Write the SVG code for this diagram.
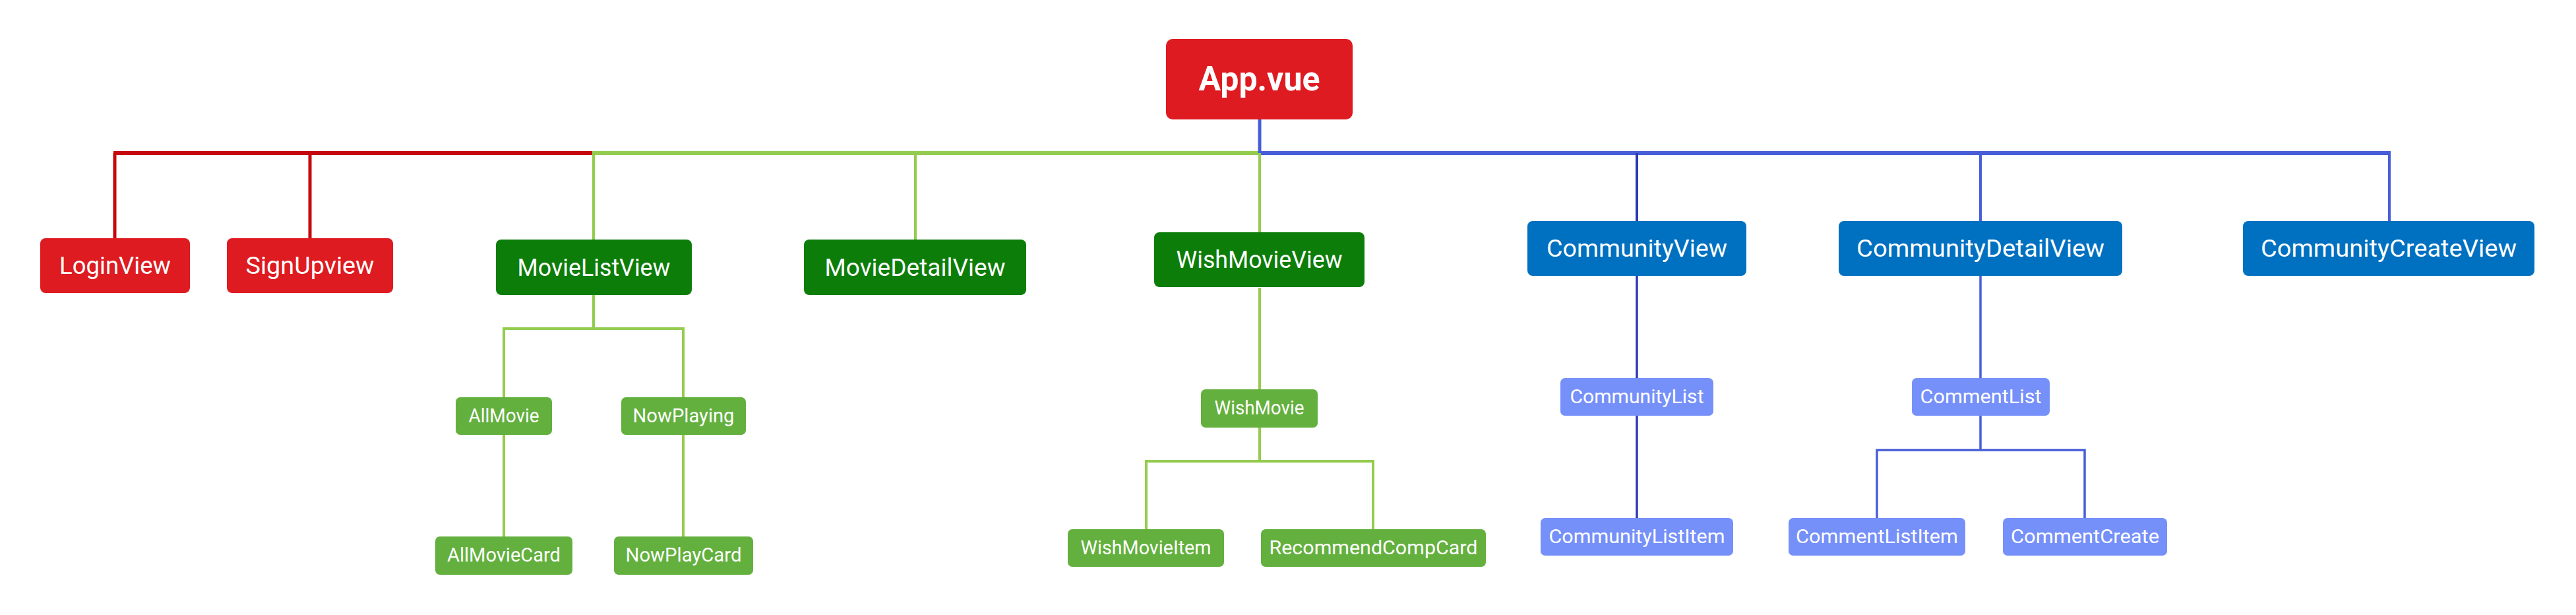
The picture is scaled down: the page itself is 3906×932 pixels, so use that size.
<svg xmlns="http://www.w3.org/2000/svg" width="3906" height="932" viewBox="0 0 3906 932">
<style>
text{font-family:Roboto,"Liberation Sans",sans-serif;fill:#fff;text-anchor:middle}
.big{font-size:36px}
.sm{font-size:30px}
.root{font-size:52px;font-weight:bold}
.red{fill:#de1b21}
.dg{fill:#0d7d0a}
.lg{fill:#63b03e}
.bl{fill:#0070c0}
.lb{fill:#7690f9}
.c{fill:none;stroke-linejoin:miter}
.cr{stroke:#c5080e}
.cg{stroke:#94cc4f}
.cb{stroke:#485ed8}
.cd{stroke:#2c39b4}
</style>
<rect width="3906" height="932" fill="#fff"/>
<g id="connectors">
<path class="c cr" stroke-width="6" d="M172,232 H898"/>
<path class="c cg" stroke-width="6" d="M898,232 H1910"/>
<path class="c cb" stroke-width="6" d="M1910,232 H3625"/>
<path class="c cr" stroke-width="5" d="M174,232 V361 M470,232 V361"/>
<path class="c cg" stroke-width="4" d="M900,232 V363 M1388,232 V363 M1910,232 V352"/>
<path class="c cb" stroke-width="5" d="M1910,181 V232"/>
<path class="c cd" stroke-width="4" d="M2482,232 V335"/>
<path class="c cb" stroke-width="4" d="M3003,232 V335 M3623,232 V335"/>
<path class="c cg" stroke-width="4" d="M900,447 V498 M764,602 V498 H1036 V602 M764,659 V813 M1036,659 V813"/>
<path class="c cg" stroke-width="4" d="M1910,436 V590 M1910,648 V699 M1738,802 V699 H2082 V802"/>
<path class="c cd" stroke-width="3.5" d="M2482,418 V573 M2482,630 V785"/>
<path class="c cb" stroke-width="3.5" d="M3003,418 V573 M3003,630 V682 M2846,785 V682 H3161 V785"/>
</g>
<g id="app-vue"><rect class="red" x="1768" y="59" width="283" height="122" rx="10"/><text class="root" x="1909.5" y="137" textLength="184" lengthAdjust="spacingAndGlyphs">App.vue</text></g>
<g id="login-view"><rect class="red" x="61" y="361" width="227" height="83" rx="8"/><text class="big" x="174.5" y="415" textLength="169" lengthAdjust="spacingAndGlyphs">LoginView</text></g>
<g id="signup-view"><rect class="red" x="344" y="361" width="252" height="83" rx="8"/><text class="big" x="470" y="415" textLength="195" lengthAdjust="spacingAndGlyphs">SignUpview</text></g>
<g id="movie-list-view"><rect class="dg" x="752" y="363" width="297" height="84" rx="8"/><text class="big" x="900.5" y="418" textLength="232" lengthAdjust="spacingAndGlyphs">MovieListView</text></g>
<g id="movie-detail-view"><rect class="dg" x="1219" y="363" width="337" height="84" rx="8"/><text class="big" x="1387.5" y="418" textLength="274" lengthAdjust="spacingAndGlyphs">MovieDetailView</text></g>
<g id="wish-movie-view"><rect class="dg" x="1750" y="352" width="319" height="83" rx="8"/><text class="big" x="1909.5" y="406" textLength="252" lengthAdjust="spacingAndGlyphs">WishMovieView</text></g>
<g id="community-view"><rect class="bl" x="2316" y="335" width="332" height="83" rx="8"/><text class="big" x="2482" y="389" textLength="274" lengthAdjust="spacingAndGlyphs">CommunityView</text></g>
<g id="community-detail-view"><rect class="bl" x="2788" y="335" width="430" height="83" rx="8"/><text class="big" x="3003" y="389" textLength="376" lengthAdjust="spacingAndGlyphs">CommunityDetailView</text></g>
<g id="community-create-view"><rect class="bl" x="3401" y="335" width="442" height="83" rx="8"/><text class="big" x="3622" y="389" textLength="388" lengthAdjust="spacingAndGlyphs">CommunityCreateView</text></g>
<g id="all-movie"><rect class="lg" x="691" y="602" width="146" height="57" rx="7"/><text class="sm" x="764" y="639.5" textLength="107" lengthAdjust="spacingAndGlyphs">AllMovie</text></g>
<g id="now-playing"><rect class="lg" x="942" y="602" width="189" height="57" rx="7"/><text class="sm" x="1036.5" y="639.5" textLength="154" lengthAdjust="spacingAndGlyphs">NowPlaying</text></g>
<g id="all-movie-card"><rect class="lg" x="660" y="813" width="208" height="58" rx="7"/><text class="sm" x="764" y="851" textLength="172" lengthAdjust="spacingAndGlyphs">AllMovieCard</text></g>
<g id="now-play-card"><rect class="lg" x="931" y="813" width="211" height="58" rx="7"/><text class="sm" x="1036.5" y="851" textLength="176" lengthAdjust="spacingAndGlyphs">NowPlayCard</text></g>
<g id="wish-movie"><rect class="lg" x="1821" y="590" width="177" height="58" rx="7"/><text class="sm" x="1909.5" y="628" textLength="136" lengthAdjust="spacingAndGlyphs">WishMovie</text></g>
<g id="wish-movie-item"><rect class="lg" x="1619" y="802" width="237" height="57" rx="7"/><text class="sm" x="1737.5" y="839.5" textLength="198" lengthAdjust="spacingAndGlyphs">WishMovieItem</text></g>
<g id="recommend-comp-card"><rect class="lg" x="1912" y="802" width="341" height="57" rx="7"/><text class="sm" x="2082.5" y="839.5" textLength="316" lengthAdjust="spacingAndGlyphs">RecommendCompCard</text></g>
<g id="community-list"><rect class="lb" x="2366" y="573" width="232" height="57" rx="7"/><text class="sm" x="2482" y="610.5" textLength="203" lengthAdjust="spacingAndGlyphs">CommunityList</text></g>
<g id="community-list-item"><rect class="lb" x="2336" y="785" width="292" height="57" rx="7"/><text class="sm" x="2482" y="822.5" textLength="267" lengthAdjust="spacingAndGlyphs">CommunityListItem</text></g>
<g id="comment-list"><rect class="lb" x="2899" y="573" width="209" height="57" rx="7"/><text class="sm" x="3003.5" y="610.5" textLength="184" lengthAdjust="spacingAndGlyphs">CommentList</text></g>
<g id="comment-list-item"><rect class="lb" x="2712" y="785" width="268" height="57" rx="7"/><text class="sm" x="2846" y="822.5" textLength="246" lengthAdjust="spacingAndGlyphs">CommentListItem</text></g>
<g id="comment-create"><rect class="lb" x="3037" y="785" width="249" height="57" rx="7"/><text class="sm" x="3161.5" y="822.5" textLength="225" lengthAdjust="spacingAndGlyphs">CommentCreate</text></g>
</svg>
